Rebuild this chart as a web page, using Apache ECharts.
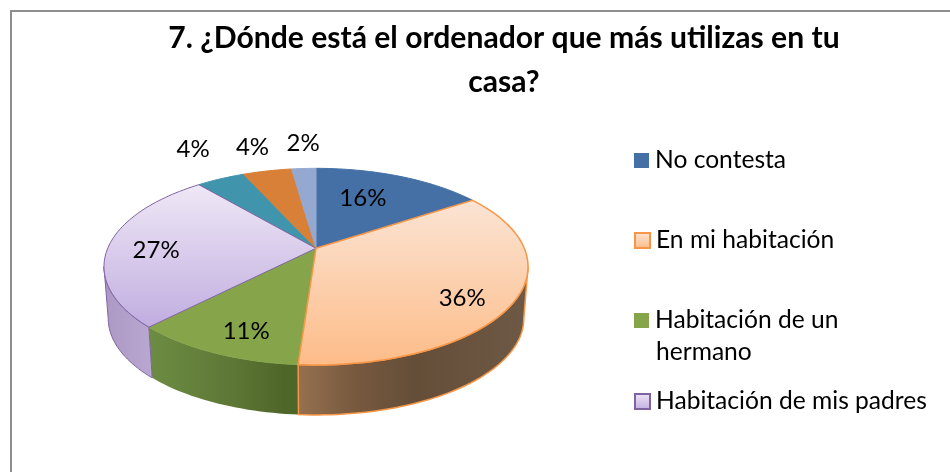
<!DOCTYPE html>
<html>
<head>
<meta charset="utf-8">
<style>html,body{margin:0;padding:0;background:#fff}#c{width:950px;height:472px}</style>
<script src="https://cdn.jsdelivr.net/npm/echarts@6/dist/echarts.min.js"></script>
</head>
<body>
<div id="c"></div>
<script>
const titleText = '7. ¿Dónde está el ordenador que más utilizas en tu\ncasa?';
const categories = ['No contesta', 'En mi habitación', 'Habitación de un hermano', 'Habitación de mis padres', 'Otro lugar A', 'Otro lugar B', 'Otro lugar C'];
const counts = [7, 16, 5, 12, 2, 2, 1];
const percentLabels = ['16%', '36%', '11%', '27%', '4%', '4%', '2%'];
const legendNames = ['No contesta', 'En mi habitación', 'Habitación de un hermano', 'Habitación de mis padres'];

const FONT = 'Lato, "Open Sans", sans-serif';
const cx = 316, cy = 248.3, A = 208.3, B = 0.1866, C = 94.9;
const DEPTH = 52.3, SHRINK = 0.98;
const labelR = [0.639, 0.80, 0.804, 0.765, 1.488, 1.38, 1.396];
const labelTurn = [-5, 7, -3, -3.5, 2.5, 0, 0.8];
const zOrder = [2, 5, 2, 4, 3, 3, 3];

function vgrad(a, b) {
  return { type: 'linear', x: 0, y: 0, x2: 0, y2: 1, colorStops: [{ offset: 0, color: a }, { offset: 1, color: b }] };
}
function hgrad(stops) {
  return { type: 'linear', x: 0, y: 0, x2: 1, y2: 0, colorStops: stops.map(c => ({ offset: c[0], color: c[1] })) };
}
const topFill = ['#4470a6', vgrad('#fbe4d4', '#fdbc88'), '#86a44a', vgrad('#efe8f6', '#c1ade0'), '#4095ad', '#d98038', '#94a8d0'];
const topStroke = ['#4470a6', '#f79646', '#86a44a', '#8064a2', '#4095ad', '#d98038', '#94a8d0'];
const sideFill = [
  null,
  hgrad([[0, '#96714f'], [0.25, '#77593f'], [0.5, '#654e38'], [1, '#6d5946']]),
  hgrad([[0, '#6d8c42'], [0.5, '#5f7a38'], [0.9, '#4f6629'], [1, '#4f6629']]),
  hgrad([[0, '#ab98c4'], [1, '#b9a8d2']]),
  null, null, null
];
const total = counts.reduce((s, v) => s + v, 0);
const starts = [];
counts.reduce((s, v, i) => { starts[i] = s; return s + v; }, 0);
const TURN = Math.PI * 2, DEG = Math.PI / 180;
const angleOf = v => v / total * TURN;
const SIL = Math.PI / 2 + Math.asin(B);

function project(r, t) {
  const u = r * Math.sin(t), v = r * Math.cos(t), d = 1 + B * v;
  return [A * u / d, C * v / d];
}
function topPt(r, t) { const p = project(r, t); return [cx + p[0], cy - p[1]]; }
function lowPt(t) { const p = project(1, t); return [cx + p[0] * SHRINK, cy - p[1] * SHRINK + DEPTH]; }
function arc(fn, a0, a1) {
  const n = Math.max(2, Math.ceil(Math.abs(a1 - a0) / (1.5 * DEG)));
  const out = [];
  for (let i = 0; i <= n; i++) out.push(fn(a0 + (a1 - a0) * i / n));
  return out;
}

const series = categories.map((name, i) => ({
  type: 'custom',
  name,
  coordinateSystem: 'none',
  z: zOrder[i],
  silent: true,
  data: [[counts[i]]],
  renderItem(params, api) {
    const a0 = angleOf(starts[i]), a1 = a0 + angleOf(api.value(0));
    const kids = [];
    const s0 = Math.max(a0, SIL), s1 = Math.min(a1, TURN - SIL);
    if (s1 > s0) {
      const up = arc(t => topPt(1, t), s0, s1);
      const lo = arc(lowPt, s1, s0);
      kids.push({ type: 'polygon', shape: { points: up.concat(lo) },
        style: { fill: sideFill[i], stroke: topStroke[i], lineWidth: i === 1 ? 1.5 : (i === 3 ? 1 : 0) } });
    }
    const pts = [[cx, cy]].concat(arc(t => topPt(1, t), a0, a1));
    kids.push({ type: 'polygon', shape: { points: pts },
      style: { fill: topFill[i], stroke: topStroke[i], lineWidth: (i === 1) ? 1.5 : 1 } });
    const mid = (a0 + a1) / 2 + labelTurn[i] * DEG;
    const lp = topPt(labelR[i], mid);
    kids.push({ type: 'text', z2: 50, style: { x: lp[0], y: lp[1], text: percentLabels[i], fill: '#000',
      font: '24px ' + FONT, align: 'center', verticalAlign: 'middle' } });
    return { type: 'group', children: kids };
  }
}));

const legendStyle = [
  { color: '#4470a6' },
  { color: vgrad('#fbe4d4', '#fdbc88'), borderColor: '#f79646', borderWidth: 2 },
  { color: '#86a44a' },
  { color: vgrad('#efe8f6', '#c1ade0'), borderColor: '#8064a2', borderWidth: 2 }
];
const legendTop = [148, 228, 308, 389];
const legend = legendNames.map((n, i) => ({
  left: 634, top: legendTop[i], padding: 0, selectedMode: false, orient: 'vertical',
  itemWidth: 15, itemHeight: 15, itemGap: 0,
  data: [{ name: n, icon: 'rect', itemStyle: legendStyle[i] }],
  formatter: v => v === 'Habitación de un hermano' ? 'Habitación de un' : v,
  textStyle: { fontFamily: FONT, fontSize: 24.6, color: '#000', padding: [0, 0, 0, 1] }
}));

const chart = echarts.init(document.getElementById('c'));
chart.setOption({
  animation: false,
  backgroundColor: '#fff',
  title: { text: titleText, left: 499, top: 11, textAlign: 'center',
    textStyle: { fontFamily: FONT, fontSize: 30.1, fontWeight: 'bold', color: '#000', lineHeight: 44 } },
  legend,
  graphic: [
    { type: 'rect', z: -1, shape: { x: 11, y: 11, width: 1100, height: 1100 }, style: { fill: '#fff', stroke: '#8e8e8e', lineWidth: 2 } },
    { type: 'text', left: 656, top: 340, style: { text: 'hermano', font: '24.6px ' + FONT, fill: '#000' } }
  ],
  series
});
</script>
</body>
</html>
